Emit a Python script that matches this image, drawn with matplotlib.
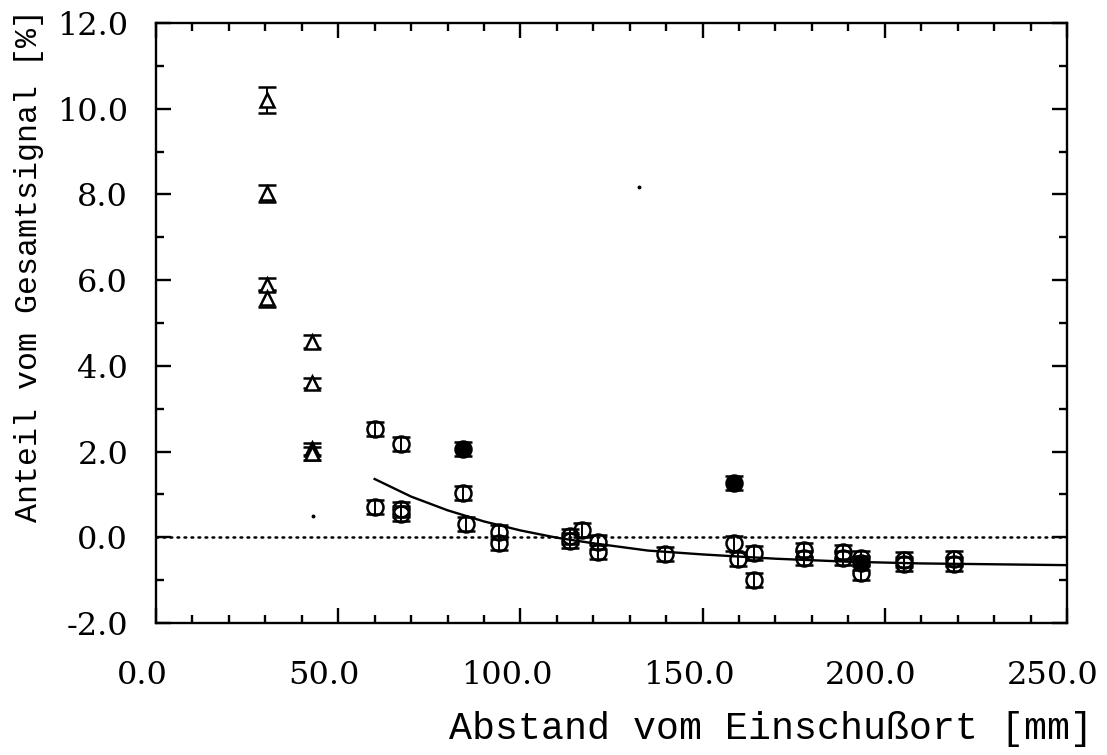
import matplotlib
matplotlib.use("Agg")
import matplotlib.pyplot as plt
import matplotlib.transforms as mtransforms

# ---- data ----
tri_x = [30.5, 30.5, 30.5, 30.5, 42.9, 42.9, 42.9, 42.9]
tri_y = [10.20, 8.03, 5.89, 5.58, 4.56, 3.60, 2.06, 1.96]
tri_err = [0.30, 0.20, 0.15, 0.20, 0.15, 0.12, 0.15, 0.15]

circ_x = [60.2, 60.2, 67.3, 67.3, 67.3, 84.3, 85.0, 94.0, 94.0,
          113.7, 113.7, 117.0, 121.4, 121.4, 139.8,
          158.5, 159.6, 164.0, 164.0, 177.7, 177.7, 188.5, 188.5,
          193.5, 193.5, 205.2, 205.2, 219.0, 219.0]
circ_y = [2.53, 0.71, 2.18, 0.65, 0.55, 1.03, 0.31, 0.12, -0.13,
          0.02, -0.08, 0.17, -0.11, -0.34, -0.39,
          -0.14, -0.51, -0.37, -1.00, -0.30, -0.48, -0.34, -0.48,
          -0.48, -0.83, -0.52, -0.62, -0.50, -0.62]
circ_err = [0.17, 0.17, 0.17, 0.17, 0.17, 0.17, 0.17, 0.17, 0.17,
            0.17, 0.17, 0.17, 0.17, 0.17, 0.17,
            0.17, 0.17, 0.17, 0.17, 0.17, 0.17, 0.17, 0.17,
            0.17, 0.17, 0.17, 0.17, 0.17, 0.17]

fill_x = [84.3, 158.5, 193.5]
fill_y = [2.06, 1.27, -0.60]
fill_err = [0.17, 0.17, 0.17]

speck_x = [43.0, 132.5]
speck_y = [0.50, 8.17]

fit_x = [60, 70, 80, 90, 100, 110, 120, 135, 150, 170, 190, 210, 230, 250]
fit_y = [1.36, 0.95, 0.63, 0.37, 0.16, -0.01, -0.14, -0.31, -0.40, -0.50,
         -0.57, -0.61, -0.63, -0.65]

ref_x = [0, 250]
ref_y = [0.0, 0.0]

x_ticks = [0, 50, 100, 150, 200, 250]
x_ticklabels = ["0.0", "50.0", "100.0", "150.0", "200.0", "250.0"]
y_ticks = [-2, 0, 2, 4, 6, 8, 10, 12]
y_ticklabels = ["-2.0", "0.0", "2.0", "4.0", "6.0", "8.0", "10.0", "12.0"]

xlabel = "Abstand vom Einschußort [mm]"
ylabel = "Anteil vom Gesamtsignal [%]"

# ---- figure ----
W, H = 1107, 755
fig = plt.figure(figsize=(W / 100, H / 100), dpi=100)
left, right, top, bottom = 156, 1067, 23, 623
ax = fig.add_axes([left / W, 1 - bottom / H, (right - left) / W, (bottom - top) / H])

ax.set_xlim(0, 250)
ax.set_ylim(-2, 12)

ax.plot(ref_x, ref_y, color="black", lw=1.8, linestyle=(0, (0.7, 2.1)),
        dash_capstyle="round", zorder=1)
ax.plot(fit_x, fit_y, color="black", lw=1.7, zorder=2)

ebkw = dict(fmt="none", ecolor="black", elinewidth=1.4, capsize=6.5, capthick=1.8, zorder=3)
ax.errorbar(tri_x, tri_y, yerr=tri_err, **ebkw)
ax.errorbar(circ_x, circ_y, yerr=circ_err, **ebkw)
ax.errorbar(fill_x, fill_y, yerr=fill_err, **ebkw)

ax.plot(tri_x, tri_y, linestyle="none", marker="^", markersize=10.5,
        markerfacecolor="white", markeredgecolor="black", markeredgewidth=1.8, zorder=4)
ax.plot(circ_x, circ_y, linestyle="none", marker="o", markersize=11.5,
        markerfacecolor="none", markeredgecolor="black", markeredgewidth=1.8, zorder=4)
ax.plot(fill_x, fill_y, linestyle="none", marker="o", markersize=11.5,
        markerfacecolor="black", markeredgecolor="black", markeredgewidth=1.8, zorder=5)
ax.plot(speck_x, speck_y, linestyle="none", marker="o", markersize=1.8,
        color="black", zorder=5)

for sp in ax.spines.values():
    sp.set_linewidth(1.7)

ax.set_xticks(x_ticks)
ax.set_xticklabels(x_ticklabels)
ax.set_yticks(y_ticks)
ax.set_yticklabels(y_ticklabels)
ax.set_xticks([v for v in range(10, 250, 10) if v % 50 != 0], minor=True)
ax.set_yticks([v for v in range(-1, 12, 2)], minor=True)

ax.tick_params(which="both", direction="in", top=True, right=True, width=1.7)
ax.tick_params(which="major", length=11)
ax.tick_params(which="minor", length=6)
ax.tick_params(axis="x", which="major", pad=27)
ax.tick_params(axis="y", which="major", pad=20)

for lab in ax.get_xticklabels():
    lab.set_fontfamily("DejaVu Serif")
    lab.set_fontsize(23)
    lab.set_transform(lab.get_transform() + mtransforms.ScaledTranslation(-14 / 100, 0, fig.dpi_scale_trans))
for lab in ax.get_yticklabels():
    lab.set_fontfamily("DejaVu Serif")
    lab.set_fontsize(23)

ax.set_xlabel(xlabel, family="Liberation Mono", fontsize=27.5, ha="right", va="center")
ax.xaxis.set_label_coords((1093 - left) / (right - left), (bottom - 729) / (bottom - top))
ax.set_ylabel(ylabel, family="Liberation Mono", fontsize=22.8, rotation=90)
ax.yaxis.set_label_coords((29 - left) / (right - left), (bottom - 9) / (bottom - top))
ax.yaxis.label.set_va("center")
ax.yaxis.label.set_ha("right")

fig.savefig("out.png", dpi=100)
